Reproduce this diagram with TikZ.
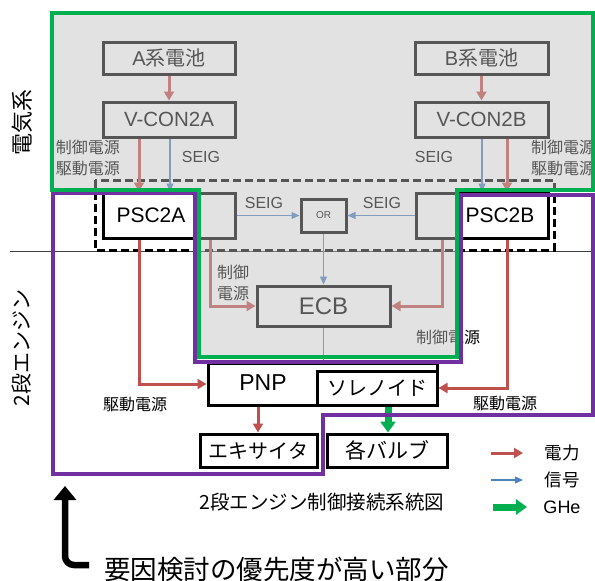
\documentclass[tikz,border=0pt]{standalone}
\usepackage{fontspec}
\setmainfont{Noto Sans CJK JP}
\newfontfamily\lat{Liberation Sans}
\usetikzlibrary{arrows.meta}
\definecolor{pcol}{RGB}{192,80,77}
\definecolor{scol}{RGB}{79,129,189}
\definecolor{gcol}{RGB}{0,176,80}
\definecolor{vcol}{RGB}{112,48,160}
\definecolor{ovl}{gray}{0.75}
\begin{document}
\begin{tikzpicture}[x=1pt,y=-1pt,
 box/.style={draw=black, line width=3pt, fill=white, inner sep=0pt, font=\fontsize{20}{24}\selectfont},
 pw/.style={draw=pcol, line width=3pt, -{Triangle[length=9pt,width=10pt]}},
 sig/.style={draw=scol, line width=1.2pt, -{Triangle[length=8pt,width=7pt]}},
 ghe/.style={draw=gcol, line width=7pt, -{Triangle[length=11pt,width=15pt]}},
 lbl/.style={inner sep=0pt, font=\fontsize{16}{21}\selectfont, align=center},
 seig/.style={inner sep=0pt, font=\lat\fontsize{16}{19}\selectfont},
 side/.style={rotate=90, inner sep=0pt},
]
\useasboundingbox (0,0) rectangle (595,581);
\fill[white] (0,0) rectangle (595,581);
% thin separator line
\draw[black!75, line width=1pt] (10,251) -- (593,251);
% dashed box
\draw[black, line width=3pt, dash pattern=on 8pt off 4pt] (95,180) rectangle (554,250);
% boxes
\node[box, minimum width=132pt, minimum height=32pt] (abat) at (169,58) {{\lat A}系電池};
\node[box, minimum width=132pt, minimum height=35pt, font=\lat\fontsize{20.5}{24}\selectfont] (avc) at (169,119.5) {V-CON2A};
\node[box, minimum width=133pt, minimum height=32pt] (bbat) at (481.5,58) {{\lat B}系電池};
\node[box, minimum width=133pt, minimum height=35pt, font=\lat\fontsize{20.5}{24}\selectfont] (bvc) at (481.5,119.5) {V-CON2B};
\node[box, minimum width=132pt, minimum height=45pt] (psca) at (169,215.5) {};
\node[inner sep=0pt, font=\lat\fontsize{21}{24}\selectfont] (pscat) at (151,215.5) {PSC2A};
\node[box, minimum width=132pt, minimum height=45pt] (pscb) at (482,215.5) {};
\node[inner sep=0pt, font=\lat\fontsize{21}{24}\selectfont] (pscbt) at (500,215.5) {PSC2B};
\node[box, minimum width=45pt, minimum height=33pt, font=\lat\fontsize{10}{12}\selectfont] (or) at (323.5,215.5) {OR};
\node[box, minimum width=133pt, minimum height=40pt, font=\lat\fontsize{24}{28}\selectfont] (ecb) at (323.5,306) {ECB};
\node[box, minimum width=229pt, minimum height=42pt] (pnp) at (322.5,384) {};
\node[inner sep=0pt, font=\lat\fontsize{23}{26}\selectfont] (pnpt) at (263,383) {PNP};
\node[box, minimum width=120pt, minimum height=34pt] (sol) at (377,388) {ソレノイド};
\node[box, minimum width=117pt, minimum height=33pt] (exc) at (258.5,450.5) {エキサイタ};
\node[box, minimum width=120pt, minimum height=33pt, font=\fontsize{21}{24}\selectfont] (vlv) at (387,450.5) {各バルブ};
% connectors
\draw[pw] (abat.south) -- (avc.north);
\draw[pw] (bbat.south) -- (bvc.north);
\draw[pw] (139,0 |- avc.south) -- (139,0 |- psca.north);
\draw[sig] (170,0 |- avc.south) -- (170,0 |- psca.north);
\draw[sig] (482,0 |- bvc.south) -- (482,0 |- pscb.north);
\draw[pw] (507,0 |- bvc.south) -- (507,0 |- pscb.north);
\draw[sig] (psca.east) -- (or.west);
\draw[sig] (pscb.west) -- (or.east);
\draw[sig] (or.south) -- (ecb.north);
\draw[draw=scol, line width=1.2pt] (ecb.south) -- (ecb.south |- pnp.north);
\draw[pw] (210,0 |- psca.south) |- (ecb.west);
\draw[pw] (442,0 |- pscb.south) |- (ecb.east);
\draw[pw] (139,0 |- psca.south) |- (pnp.west);
\draw[pw] (507,0 |- pscb.south) |- (sol.east);
\draw[pw] (258,0 |- pnp.south) -- (258,0 |- exc.north);
\draw[ghe] (388,0 |- sol.south) -- (388,0 |- vlv.north);
% labels
\node[seig] (s1) at (201,157) {SEIG};
\node[seig] (s2) at (434,157) {SEIG};
\node[seig] (s3) at (264,203) {SEIG};
\node[seig] (s4) at (382,203) {SEIG};
\node[lbl] (la) at (88,157.5) {制御電源\\駆動電源};
\node[lbl] (lb) at (563,157.5) {制御電源\\駆動電源};
\node[lbl] (lc) at (233,282.5) {制御\\電源};
\node[lbl] (ld) at (448,337) {制御電源};
\node[lbl] (le) at (135,405) {駆動電源};
\node[lbl] (lf) at (505,404) {駆動電源};
% translucent overlay of the electrical system area
\fill[ovl, fill opacity=0.45] (52,13) -- (593,13) -- (593,190) -- (456.5,190) -- (456.5,357) -- (199,357) -- (199,190) -- (52,190) -- cycle;
% region outlines
\draw[vcol, line width=4pt] (53,193) -- (195,193) -- (195,362) -- (460.5,362) -- (460.5,195) -- (593,195) -- (593,415) -- (323,415) -- (323,474) -- (53,474) -- cycle;
\draw[gcol, line width=4pt] (52,13) -- (593,13) -- (593,190) -- (456.5,190) -- (456.5,357) -- (199,357) -- (199,190) -- (52,190) -- cycle;
% side titles
\node[side, font=\fontsize{22}{24}\selectfont] (el) at (22,122) {電気系};
\node[side, font=\fontsize{21}{24}\selectfont] (eng) at (22,348) {2段エンジン};
% caption
\node[inner sep=0pt, font=\fontsize{19.5}{22}\selectfont] (cap) at (322,502) {2段エンジン制御接続系統図};
% legend
\coordinate (l1a) at (491,453); \coordinate (l1b) at (523,453);
\coordinate (l2a) at (491,480); \coordinate (l2b) at (523,480);
\coordinate (l3a) at (493,507); \coordinate (l3b) at (527,507);
\draw[pw] (l1a) -- (l1b);
\draw[sig] (l2a) -- (l2b);
\draw[ghe] (l3a) -- (l3b);
\node[inner sep=0pt, font=\fontsize{17.5}{20}\selectfont] (lg1) at (562,453) {電力};
\node[inner sep=0pt, font=\fontsize{17.5}{20}\selectfont] (lg2) at (562,480) {信号};
\node[inner sep=0pt, font=\lat\fontsize{18}{20}\selectfont] (lg3) at (562,507) {GHe};
% priority pointer
\coordinate (ka) at (89,565); \coordinate (kb) at (65,486);
\draw[black, line width=6.5pt, rounded corners=9pt, -{Triangle[length=14pt,width=22pt]}] (ka) -| (kb);
\node[inner sep=0pt, anchor=west, font=\fontsize{26.5}{30}\selectfont] (prio) at (104,569) {要因検討の優先度が高い部分};
\end{tikzpicture}
\end{document}
